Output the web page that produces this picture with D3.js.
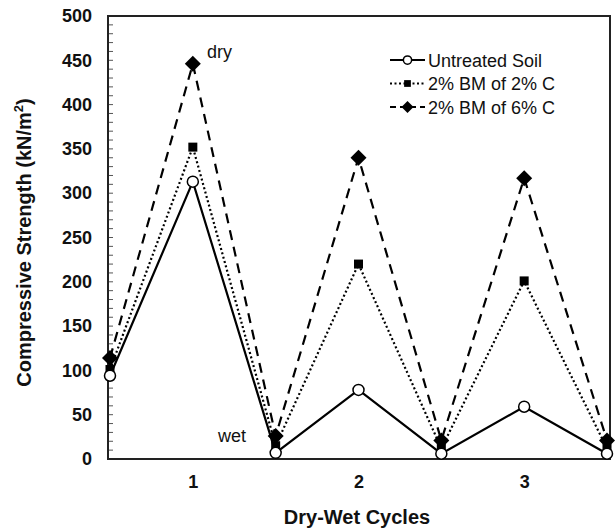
<!DOCTYPE html>
<html>
<head>
<meta charset="utf-8">
<script src="https://cdn.jsdelivr.net/npm/d3@7"></script>
<style>
  html, body { margin: 0; padding: 0; background: #fff; }
  svg { display: block; font-family: "Liberation Sans", Arial, sans-serif; }
</style>
</head>
<body>
<svg id="chart" width="616" height="530"></svg>
<script>
// Compressive strength over dry-wet cycles
const cycles = [0.5, 1, 1.5, 2, 2.5, 3, 3.5];
const untreatedSoil = [94, 313, 7, 78, 6, 59, 6];
const bm2c = [101, 352, 15, 220, 12, 201, 12];
const bm6c = [114, 446, 26, 340, 21, 317, 21];
const yTickValues = [0, 50, 100, 150, 200, 250, 300, 350, 400, 450, 500];
const xTickValues = [1, 2, 3];
const seriesNames = ["Untreated Soil", "2% BM of 2% C", "2% BM of 6% C"];

const svg = d3.select("#chart");
const frame = { left: 108, right: 610, top: 16, bottom: 459 };

const x = d3.scaleLinear().domain([0.5, 3.5]).range([110, 607]);
const y = d3.scaleLinear().domain([0, 500]).range([frame.bottom, frame.top]);

// minor ticks every 10 units, drawn inside the left axis
const minor = d3.range(0, 501, 10);
svg.append("g").selectAll("line").data(minor).join("line")
  .attr("x1", frame.left).attr("x2", frame.left + 5)
  .attr("y1", d => y(d)).attr("y2", d => y(d))
  .attr("stroke", "#555").attr("stroke-width", 1);

// y axis labels
const yAxis = d3.axisLeft(y).tickValues(yTickValues).tickSize(0).tickPadding(16);
svg.append("g").attr("transform", `translate(${frame.left},0)`).call(yAxis)
  .call(g => g.select(".domain").remove())
  .selectAll("text")
  .attr("font-family", "Liberation Sans, Arial, sans-serif")
  .attr("font-size", 18).attr("font-weight", "bold").attr("fill", "#111");

// x axis labels
const xAxis = d3.axisBottom(x).tickValues(xTickValues).tickSize(0).tickPadding(16).tickFormat(d3.format("d"));
svg.append("g").attr("transform", `translate(0,${frame.bottom})`).call(xAxis)
  .call(g => g.select(".domain").remove())
  .selectAll("text")
  .attr("font-family", "Liberation Sans, Arial, sans-serif")
  .attr("font-size", 18).attr("font-weight", "bold").attr("fill", "#111");

// plot frame
svg.append("rect")
  .attr("x", frame.left).attr("y", frame.top)
  .attr("width", frame.right - frame.left).attr("height", frame.bottom - frame.top)
  .attr("fill", "none").attr("stroke", "#222").attr("stroke-width", 2);

// axis titles
svg.append("text")
  .attr("x", 357).attr("y", 524)
  .attr("text-anchor", "middle").attr("font-size", 20).attr("font-weight", "bold").attr("fill", "#111")
  .text("Dry-Wet Cycles");

const yTitle = svg.append("text")
  .attr("transform", `translate(31,${(frame.top + frame.bottom) / 2 + 5}) rotate(-90)`)
  .attr("text-anchor", "middle").attr("font-size", 20).attr("font-weight", "bold").attr("fill", "#111");
yTitle.append("tspan").text("Compressive Strength (kN/m");
yTitle.append("tspan").attr("font-size", 13).attr("dy", -8).text("2");
yTitle.append("tspan").attr("dy", 8).text(")");

// marker shapes
function drawMarker(g, kind, cx, cy, scale = 1) {
  if (kind === "circle") {
    g.append("circle").attr("cx", cx).attr("cy", cy).attr("r", 5.5 * scale)
      .attr("fill", "#fff").attr("stroke", "#000").attr("stroke-width", 1.5);
  } else if (kind === "square") {
    const h = 4.5 * scale;
    g.append("rect").attr("x", cx - h).attr("y", cy - h).attr("width", 2 * h).attr("height", 2 * h)
      .attr("fill", "#000");
  } else {
    const r = 8 * scale;
    g.append("path").attr("d", `M${cx},${cy - r}L${cx + r},${cy}L${cx},${cy + r}L${cx - r},${cy}Z`)
      .attr("fill", "#000");
  }
}

const series = [
  { name: seriesNames[2], values: bm6c, dash: "10,7", marker: "diamond" },
  { name: seriesNames[1], values: bm2c, dash: "2,2.5", marker: "square" },
  { name: seriesNames[0], values: untreatedSoil, dash: null, marker: "circle" }
];

const line = d3.line().x((d, i) => x(cycles[i])).y(d => y(d));

series.forEach(s => {
  const g = svg.append("g");
  g.append("path").datum(s.values).attr("d", line)
    .attr("fill", "none").attr("stroke", "#000").attr("stroke-width", 2.2)
    .attr("stroke-dasharray", s.dash);
  s.values.forEach((v, i) => drawMarker(g, s.marker, x(cycles[i]), y(v)));
});

// legend
const legendRows = [series[2], series[1], series[0]];
const lg = svg.append("g");
legendRows.forEach((s, i) => {
  const cy = 60 + i * 23.5;
  lg.append("line").attr("x1", 390).attr("x2", 425).attr("y1", cy).attr("y2", cy)
    .attr("stroke", "#000").attr("stroke-width", 2).attr("stroke-dasharray", s.dash ? (s.marker === "diamond" ? "6,4" : "2,2.5") : null);
  drawMarker(lg, s.marker, 407.5, cy, 0.75);
  lg.append("text").attr("x", 428).attr("y", cy + 6.5)
    .attr("font-size", 18).attr("fill", "#111").text(s.name);
});

// phase annotations
svg.append("text").attr("x", 207).attr("y", 58).attr("font-size", 18).attr("fill", "#111").text("dry");
svg.append("text").attr("x", 218).attr("y", 442).attr("font-size", 18).attr("fill", "#111").text("wet");
</script>
</body>
</html>
